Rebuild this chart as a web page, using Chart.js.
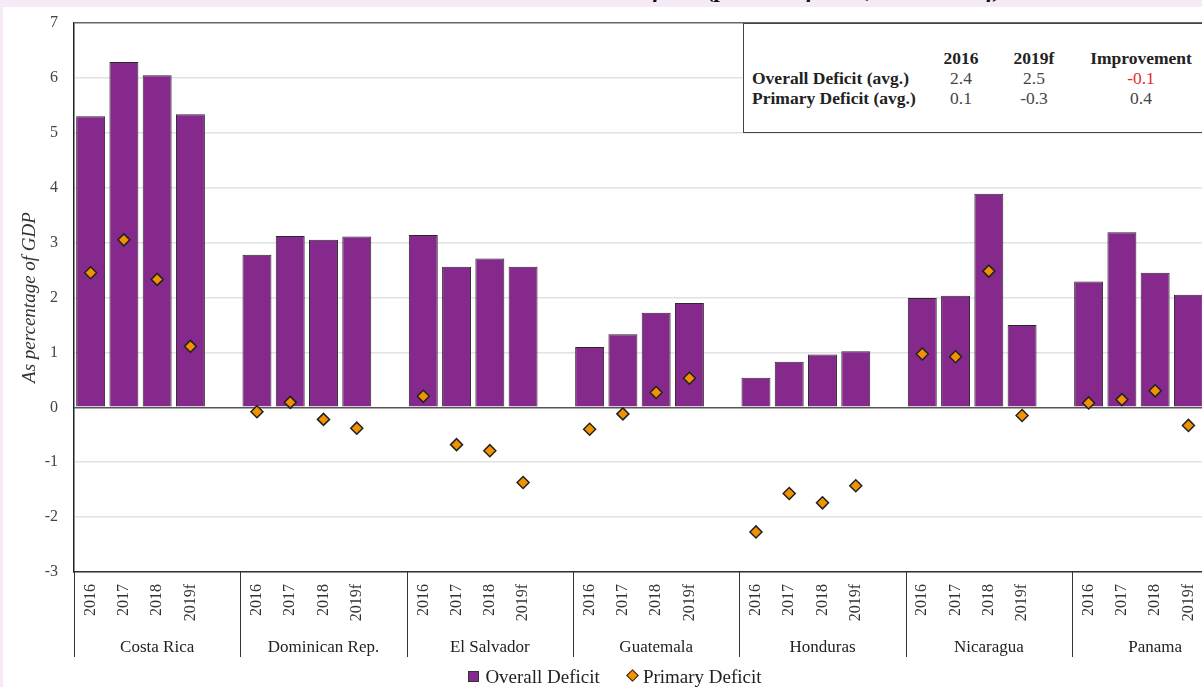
<!DOCTYPE html>
<html>
<head>
<meta charset="utf-8">
<script src="https://cdn.jsdelivr.net/npm/chart.js@4.4.1/dist/chart.umd.min.js"></script>
<style>
  body { margin: 0; background: #f6eaf7; overflow: hidden; width: 1202px; height: 687px; position: relative; font-family: "Liberation Serif", serif; }
  #title { position: absolute; left: 380px; top: -24px; font: italic bold 24px "Liberation Serif", serif; color: #111; white-space: nowrap; }
  #wrap { position: absolute; left: 3px; top: 7px; width: 1250px; height: 680px; background: #fff; }
  #summary { position: absolute; left: 740px; top: 16px; width: 520px; height: 108px; background: #fff; border: 1px solid #444; }
  #summary table { position: absolute; left: 8px; top: 24px; border-collapse: collapse; font-family: "Liberation Serif", serif; font-size: 17.5px; color: #222; }
  #summary td { padding: 0; height: 20px; line-height: 20px; white-space: nowrap; }
  #summary td.num { text-align: center; }
  #legend { position: absolute; left: 0; width: 1230px; top: 666px; text-align: center; font-family: "Liberation Serif", serif; font-size: 19px; color: #222; }
  .sq { display: inline-block; width: 9px; height: 9px; background: #86298c; border: 1px solid #333; margin-right: 6px; vertical-align: 1px; }
  .dm { display: inline-block; width: 7px; height: 7px; background: #f39200; border: 1.5px solid #222; transform: rotate(45deg); margin: 0 6px 0 28px; vertical-align: 3px; }
</style>
</head>
<body>
<div id="title">Central America: Fiscal Deficits (percent of GDP, 2016–2019f)</div>
<div id="wrap">
  <canvas id="deficitChart" width="1250" height="680"></canvas>
  <div id="summary">
    <table id="summary-table"></table>
  </div>
</div>
<div id="legend"><span class="sq"></span>Overall Deficit<span class="dm"></span>Primary Deficit</div>

<script>
// Data
const countries = ['Costa Rica', 'Dominican Rep.', 'El Salvador', 'Guatemala', 'Honduras', 'Nicaragua', 'Panama'];
const years = ['2016', '2017', '2018', '2019f'];

// one row per country, one value per year
const overallDeficit = [
    [5.30, 6.29, 6.05, 5.34],
    [2.78, 3.12, 3.05, 3.11],
    [3.14, 2.56, 2.71, 2.56],
    [1.10, 1.33, 1.72, 1.90],
    [0.54, 0.83, 0.96, 1.02],
    [1.99, 2.03, 3.89, 1.50],
    [2.29, 3.19, 2.45, 2.05]
];
const primaryDeficit = [
    [2.45, 3.05, 2.33, 1.11],
    [-0.08, 0.09, -0.22, -0.38],
    [0.20, -0.68, -0.79, -1.37],
    [-0.40, -0.12, 0.27, 0.53],
    [-2.27, -1.57, -1.74, -1.43],
    [0.97, 0.92, 2.48, -0.15],
    [0.08, 0.14, 0.30, -0.33]
];

// summary table
const summaryCols = ['2016', '2019f', 'Improvement'];
const summaryRows = ['Overall Deficit (avg.)', 'Primary Deficit (avg.)'];
const summaryOverall = ['2.4', '2.5', '-0.1'];
const summaryPrimary = ['0.1', '-0.3', '0.4'];

const yTicks = [7, 6, 5, 4, 3, 2, 1, 0, -1, -2, -3];

// Build the summary table
const colWidths = [174, 70, 76, 138];
const tbl = document.getElementById('summary-table');
let html = `<tr><td style="width:${colWidths[0]}px"></td>`;
summaryCols.forEach((c, i) => {
    html += `<td class="num" style="font-weight:bold;width:${colWidths[i + 1]}px">${c}</td>`;
});
html += '</tr>';
[summaryOverall, summaryPrimary].forEach((vals, r) => {
    html += `<tr><td style="font-weight:bold">${summaryRows[r]}</td>`;
    vals.forEach((v) => {
        const col = v.startsWith('-') && r === 0 ? 'color:#e32b2b;' : 'color:#444;';
        html += `<td class="num" style="${col}">${v}</td>`;
    });
    html += '</tr>';
});
tbl.innerHTML = html;

// Flatten into slots: 4 years + an empty gap per country
const labels = [];
const overallData = [];
const primaryData = [];
countries.forEach((c, i) => {
    years.forEach((y, j) => {
        labels.push(y);
        overallData.push(overallDeficit[i][j]);
        primaryData.push(primaryDeficit[i][j]);
    });
    labels.push('');
    overallData.push(null);
    primaryData.push(null);
});

// Country names and separators under the year labels
const groupLabels = {
    id: 'groupLabels',
    afterDraw(chart) {
        const ctx = chart.ctx;
        const x = chart.scales.x;
        const area = chart.chartArea;
        const bottom = area.bottom + 85;
        ctx.save();
        ctx.strokeStyle = '#333';
        ctx.lineWidth = 1;
        ctx.beginPath();
        ctx.moveTo(area.left + 0.5, area.bottom);
        ctx.lineTo(area.left + 0.5, bottom);
        countries.forEach((c, i) => {
            if (i === 0) return;
            const sx = Math.round((x.getPixelForValue(5 * i - 1) + x.getPixelForValue(5 * i)) / 2) + 0.5;
            ctx.moveTo(sx, area.bottom);
            ctx.lineTo(sx, bottom);
        });
        ctx.stroke();
        ctx.fillStyle = '#222';
        ctx.font = '17px "Liberation Serif", serif';
        ctx.textAlign = 'center';
        ctx.textBaseline = 'middle';
        countries.forEach((c, i) => {
            ctx.fillText(c, x.getPixelForValue(5 * i + 2), area.bottom + 76);
        });
        ctx.restore();
    }
};

const ctx = document.getElementById('deficitChart').getContext('2d');
new Chart(ctx, {
    type: 'bar',
    data: {
        labels: labels,
        datasets: [{
            type: 'line',
            label: 'Primary Deficit',
            data: primaryData,
            showLine: false,
            pointStyle: 'rectRot',
            pointRadius: 6,
            pointHoverRadius: 6,
            pointBackgroundColor: '#f39200',
            pointBorderColor: '#222',
            pointBorderWidth: 1.5
        }, {
            label: 'Overall Deficit',
            data: overallData,
            backgroundColor: '#86298c',
            borderColor: '#2a2a2a',
            borderWidth: 1,
            barPercentage: 0.87,
            categoryPercentage: 1
        }]
    },
    options: {
        responsive: false,
        animation: false,
        layout: { padding: { top: 16, right: 6, bottom: 23, left: 0 } },
        plugins: {
            legend: { display: false },
            tooltip: { enabled: false }
        },
        scales: {
            x: {
                grid: { display: false, drawTicks: false },
                border: { color: '#333', width: 1.5 },
                ticks: {
                    autoSkip: false,
                    minRotation: 90,
                    maxRotation: 90,
                    padding: 12,
                    color: '#333',
                    font: { family: '"Liberation Serif", serif', size: 16 }
                },
                afterFit(scale) { scale.height = 92; }
            },
            y: {
                min: -3,
                max: 7,
                afterBuildTicks(scale) { scale.ticks = yTicks.map(v => ({ value: v })); },
                grid: {
                    drawTicks: false,
                    color: (c) => c.tick.value === 0 ? '#555' : (c.tick.value === 7 ? '#666' : '#e2e2e2'),
                    lineWidth: 1.5
                },
                border: { color: '#222', width: 1.5 },
                ticks: {
                    padding: 16,
                    color: '#444',
                    font: { family: '"Liberation Serif", serif', size: 16 }
                },
                title: {
                    display: true,
                    text: 'As percentage of GDP',
                    color: '#333',
                    padding: { top: 16, bottom: 0 },
                    font: { family: '"Liberation Serif", serif', size: 19, style: 'italic' }
                },
                afterFit(scale) {
                    scale.width = 71;
                    scale.paddingTop = 0;
                    scale.paddingBottom = 0;
                }
            }
        }
    },
    plugins: [groupLabels]
});
</script>
</body>
</html>
